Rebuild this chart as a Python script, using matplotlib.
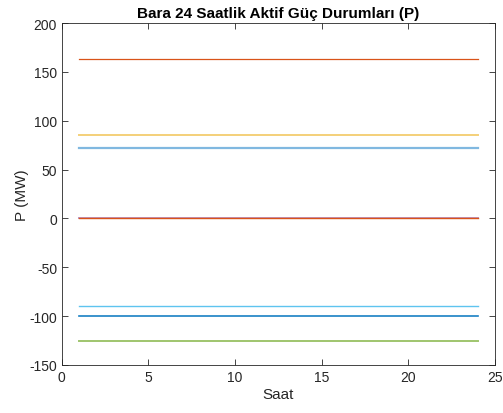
import matplotlib
matplotlib.use("Agg")
import matplotlib.pyplot as plt
import numpy as np

plt.rcParams['font.family'] = ['Liberation Sans', 'DejaVu Sans']
plt.rcParams['axes.unicode_minus'] = False

hours = list(range(1, 25))
series_values = [163, 85, 72, 0, 0, -90, -100, -125]
series_colors = ['#D95319', '#EDB120', '#4A9BD4', '#7E2F8E', '#D95319', '#4DBEEE', '#0072BD', '#77AC30']
series_widths = [0.9, 1.4, 1.6, 1.4, 1.0, 1.0, 1.2, 1.4]
series_alpha = [1.0, 0.6, 0.7, 0.5, 1.0, 0.9, 0.9, 0.7]

fig = plt.figure(figsize=(5.03, 4.14), dpi=100)
ax = fig.add_axes([0.123, 0.116, 0.861, 0.826])

for v, c, w, a in zip(series_values, series_colors, series_widths, series_alpha):
    ax.plot(hours, [v] * len(hours), color=c, linewidth=w, alpha=a)

ax.set_xlim(0, 25)
ax.set_ylim(-150, 200)
ax.set_xticks([0, 5, 10, 15, 20, 25])
ax.set_yticks(np.arange(-150, 201, 50))
ax.tick_params(direction='in', top=True, right=True, length=4, width=0.6,
               labelsize=10, colors='#262626')
for s in ax.spines.values():
    s.set_linewidth(0.6)
    s.set_color('#262626')
ax.set_xlabel('Saat', fontsize=11, color='#262626', labelpad=2)
ax.set_ylabel('P (MW)', fontsize=11, color='#262626', labelpad=0)
ax.set_title('Bara 24 Saatlik Aktif Güç Durumları (P)', fontsize=11, fontweight='bold', pad=4)

fig.savefig('out.png', dpi=100)
